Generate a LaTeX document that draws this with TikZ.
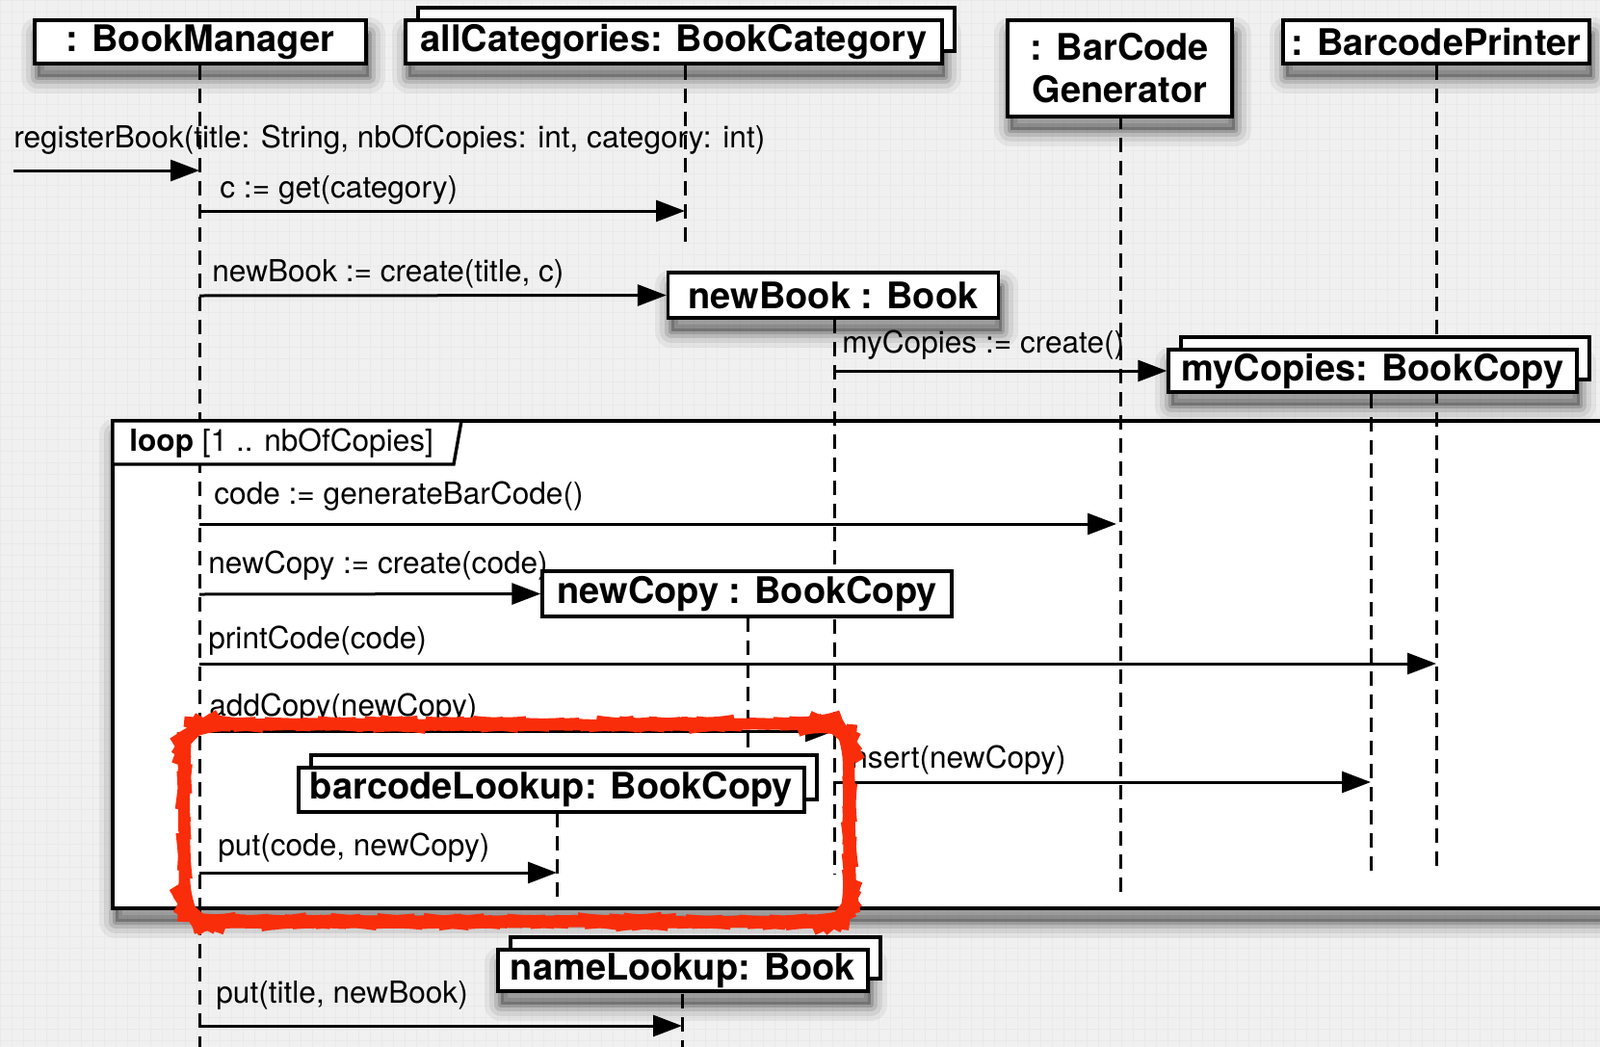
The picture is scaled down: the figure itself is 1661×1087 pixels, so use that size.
\documentclass[tikz,border=0pt]{standalone}
\usepackage{fontspec}
\setmainfont{TeX Gyre Heros}
\usetikzlibrary{arrows.meta,shadows,decorations.pathmorphing}

\definecolor{paper}{RGB}{240,240,240}
\definecolor{paperline}{RGB}{233,233,233}
\definecolor{markred}{RGB}{250,45,10}

\tikzset{
  softshadow/.style={
    preaction={draw=black, draw opacity=0.05, line width=17pt, line join=round, transform canvas={shift={(1.5pt,-7pt)}}},
    preaction={draw=black, draw opacity=0.07, line width=12pt, line join=round, transform canvas={shift={(1.5pt,-7pt)}}},
    preaction={draw=black, draw opacity=0.11, line width=7pt, line join=round, transform canvas={shift={(1.5pt,-7pt)}}},
    preaction={draw=black, draw opacity=0.16, line width=3pt, line join=round, transform canvas={shift={(1.5pt,-7pt)}}},
    preaction={fill=black, fill opacity=0.25, transform canvas={shift={(1.5pt,-7pt)}}}},
  objbox/.style={draw, line width=1.7pt, fill=white, inner sep=0pt, align=center,
    font=\bfseries\fontsize{19}{22}\selectfont},
  multiobj/.style={copy shadow={shadow xshift=6.5pt, shadow yshift=6.5pt}},
  lifeline/.style={line width=1.5pt, dash pattern=on 7.5pt off 4.5pt},
  msg/.style={line width=1.5pt, -{Triangle[length=15pt,width=11pt]}},
  msglabel/.style={anchor=west, inner sep=0pt, font=\fontsize{15.8}{19}\selectfont},
}

\begin{document}
\begin{tikzpicture}[x=0.5pt, y=-0.5pt]
\useasboundingbox (0,0) rectangle (1661,1087);

% paper
\fill[paper] (0,0) rectangle (1661,1087);
\draw[paperline, line width=0.5pt] (0,0) grid[step=6pt] (1661,1087);

% loop frame
\draw[line width=1.7pt, fill=white, softshadow] (117,437) rectangle (1700,943);

% object positions
\coordinate (POS-manager) at (208,43.5);
\coordinate (POS-categories) at (699.5,43.5);
\coordinate (POS-generator) at (1162.5,71);
\coordinate (POS-printer) at (1491,43.5);
\coordinate (POS-newBook) at (865,306.5);
\coordinate (POS-myCopies) at (1425,385);
\coordinate (POS-nameLookup) at (709,1007.5);
\coordinate (POS-newCopy) at (775.5,616.5);
\coordinate (POS-barcodeLookup) at (572.5,820);

% lifeline ends
\coordinate (END-manager) at (207,1095);
\coordinate (END-categories) at (711,258);
\coordinate (END-generator) at (1163,928);
\coordinate (END-printer) at (1491,900);
\coordinate (END-newBook) at (866,907);
\coordinate (END-myCopies) at (1423,907);
\coordinate (END-newCopy) at (776,790);
\coordinate (END-barcodeLookup) at (578,935);
\coordinate (END-nameLookup) at (708,1095);

\path [lifeline] (POS-manager -| END-manager)edge (END-manager);
\path [lifeline] (POS-categories -| END-categories)edge (END-categories);
\path [lifeline] (POS-generator -| END-generator)edge (END-generator);
\path [lifeline] (POS-printer -| END-printer)edge (END-printer);
\path [lifeline] (POS-newBook -| END-newBook)edge (END-newBook);
\path [lifeline] (POS-myCopies -| END-myCopies)edge (END-myCopies);
\path [lifeline] (POS-newCopy -| END-newCopy)edge (END-newCopy);
\path [lifeline] (POS-barcodeLookup -| END-barcodeLookup)edge (END-barcodeLookup);
\path [lifeline] (POS-nameLookup -| END-nameLookup)edge (END-nameLookup);

% loop tag
\draw[line width=1.7pt, fill=white] (117,437) -- (479,437) -- (471,482) -- (117,482) -- cycle;
\node[msglabel] (LOOP) at (134,460) {\textbf{loop} [1 .. nbOfCopies]};

% objects
\begin{scope}[every node/.style={objbox, softshadow}]
\node[minimum width=172pt, minimum height=22.5pt] (OBJ-manager) at (POS-manager) {: BookManager};
\node[multiobj, minimum width=278.5pt, minimum height=22.5pt] (OBJ-categories) at (POS-categories) {allCategories: BookCategory};
\node[minimum width=116.5pt, minimum height=50pt] (OBJ-generator) at (POS-generator) {: BarCode\\Generator};
\node[minimum width=159pt, minimum height=22.5pt] (OBJ-printer) at (POS-printer) {: BarcodePrinter};
\node[minimum width=171.5pt, minimum height=23.5pt] (OBJ-newBook) at (POS-newBook) {newBook : Book};
\node[multiobj, minimum width=212pt, minimum height=22pt] (OBJ-myCopies) at (POS-myCopies) {myCopies: BookCopy};
\node[multiobj, minimum width=192pt, minimum height=21.5pt] (OBJ-nameLookup) at (POS-nameLookup) {nameLookup: Book};
\end{scope}
\begin{scope}[every node/.style={objbox}]
\node[minimum width=212.5pt, minimum height=23.5pt] (OBJ-newCopy) at (POS-newCopy) {newCopy : BookCopy};
\node[multiobj, minimum width=262.5pt, minimum height=23pt] (OBJ-barcodeLookup) at (POS-barcodeLookup) {barcodeLookup: BookCopy};
\end{scope}

% message end points
\coordinate (MSG-register-s) at (14,177);
\coordinate (MSG-register-e) at (207,177);
\coordinate (MSG-get-s) at (207,219);
\coordinate (MSG-get-e) at (711,219);
\coordinate (MSG-newBook-s) at (207,307);
\coordinate (MSG-myCopies-s) at (866,385);
\coordinate (MSG-code-s) at (207,544);
\coordinate (MSG-code-e) at (1159,544);
\coordinate (MSG-newCopy-s) at (207,617);
\coordinate (MSG-print-s) at (207,689);
\coordinate (MSG-print-e) at (1491,689);
\coordinate (MSG-add-s) at (207,759);
\coordinate (MSG-add-e) at (866,759);
\coordinate (MSG-insert-s) at (866,812);
\coordinate (MSG-insert-e) at (1423,812);
\coordinate (MSG-putCode-s) at (207,906);
\coordinate (MSG-putCode-e) at (578,906);
\coordinate (MSG-putTitle-s) at (207,1065);
\coordinate (MSG-putTitle-e) at (708,1065);

\begin{scope}[every node/.style={msglabel}]
\node (LBL-register) at (14,145) {registerBook(title: String, nbOfCopies: int, category: int)};
\node (LBL-get) at (228,197) {c := get(category)};
\node (LBL-newBook) at (220,284) {newBook := create(title, c)};
\node (LBL-myCopies) at (874,358) {myCopies := create()};
\node (LBL-code) at (222,515) {code := generateBarCode()};
\node (LBL-newCopy) at (216,587) {newCopy := create(code)};
\node (LBL-print) at (216,665) {printCode(code)};
\node (LBL-add) at (217,735) {addCopy(newCopy)};
\node (LBL-insert) at (876,789) {insert(newCopy)};
\node (LBL-putCode) at (226,880) {put(code, newCopy)};
\node (LBL-putTitle) at (224,1033) {put(title, newBook)};
\end{scope}

\begin{scope}[every edge/.style={draw=black}]
\path [msg] (MSG-register-s)edge (MSG-register-e);
\path [msg] (MSG-get-s)edge (MSG-get-e);
\path [msg] (MSG-newBook-s)edge (OBJ-newBook.west);
\path [msg] (MSG-myCopies-s)edge (OBJ-myCopies.west);
\path [msg] (MSG-code-s)edge (MSG-code-e);
\path [msg] (MSG-newCopy-s)edge (OBJ-newCopy.west);
\path [msg] (MSG-print-s)edge (MSG-print-e);
\path [msg] (MSG-add-s)edge (MSG-add-e);
\path [msg] (MSG-insert-s)edge (MSG-insert-e);
\path [msg] (MSG-putCode-s)edge (MSG-putCode-e);
\path [msg] (MSG-putTitle-s)edge (MSG-putTitle-e);
\end{scope}

% hand-drawn highlight
\draw[markred, line width=5.5pt, rounded corners=14pt, decorate,
  decoration={random steps, segment length=4pt, amplitude=0.45pt}]
  (191,752) rectangle (882,957);
\end{tikzpicture}
\end{document}
